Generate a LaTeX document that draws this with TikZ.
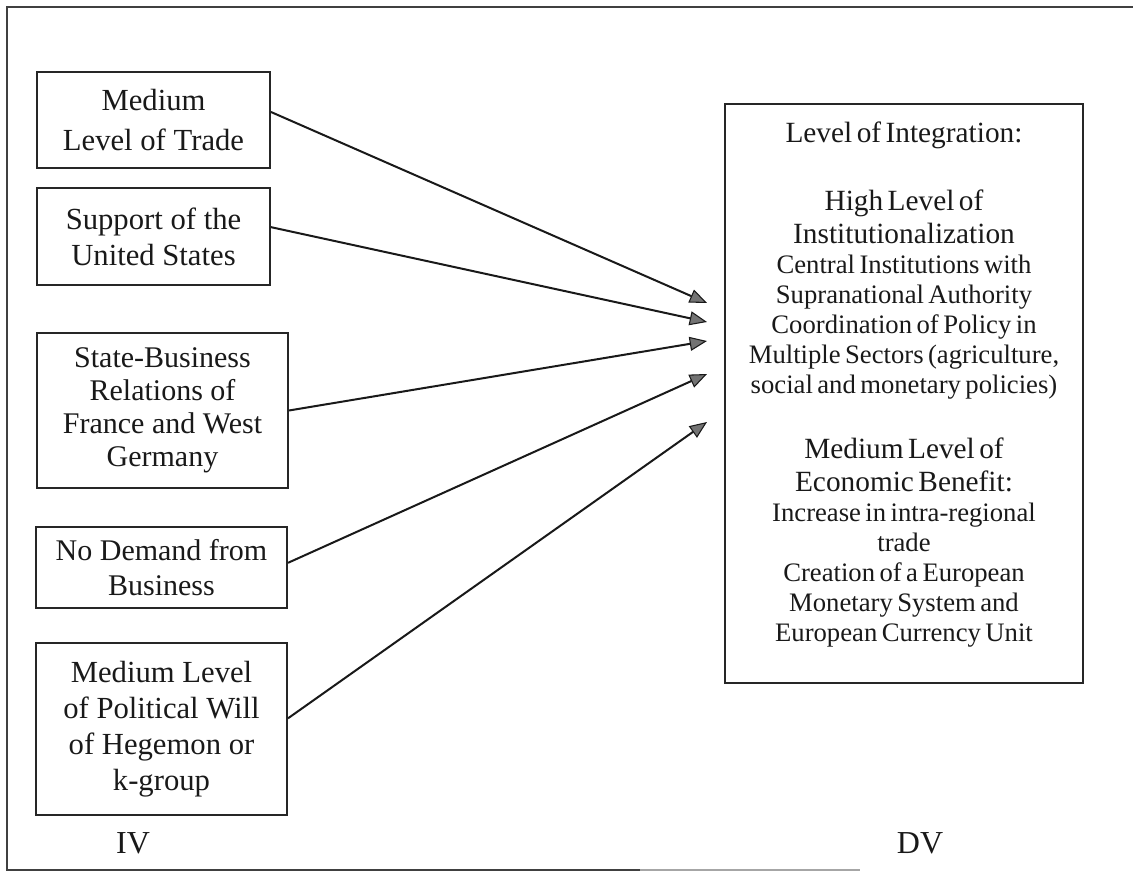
\documentclass[tikz,border=0pt]{standalone}
\usepackage{fontspec}
\setmainfont{Liberation Serif}
\usetikzlibrary{arrows.meta}

% font sizes for the outcome box
\newcommand\dvbig{\fontsize{22}{24.75}\selectfont}
\newcommand\dvsmall{\fontsize{20}{22.5}\selectfont}

\begin{document}
\begin{tikzpicture}[x=0.75pt, y=-0.75pt,
  ivbox/.style={draw=black!85, line width=1.5pt, align=center, inner sep=2pt,
    text=black!90, font=\fontsize{23}{27}\selectfont},
  dvbox/.style={draw=black!85, line width=1.5pt, inner sep=0pt},
  label/.style={text=black!90, font=\fontsize{24}{28}\selectfont, inner sep=0pt},
  link/.style={line width=1.5pt, draw=black!90,
    -{Triangle[length=13pt, width=10.5pt, fill=black!55, line width=0.8pt]}}
]
\useasboundingbox (0,0) rectangle (1133,873);

% outer frame (open on the right)
\draw[black!75, line width=1.2pt] (1133,7) -- (7,7) -- (7,870) -- (640,870);
\draw[black!35, line width=1pt] (640,870) -- (860,870);

% independent variables
\node[ivbox, minimum width=174.75pt, minimum height=72pt,
  font=\fontsize{23}{30}\selectfont] (b1) at (153.5,120)
  {Medium\\Level of Trade};
\node[ivbox, minimum width=174.75pt, minimum height=72.75pt] (b2) at (153.5,236.5)
  {Support of the\\United States};
\node[ivbox, minimum width=188.25pt, minimum height=116.25pt,
  font=\fontsize{22.5}{24.75}\selectfont] (b3) at (162.5,410.5)
  {State-Business\\Relations of\\France and West\\Germany};
\node[ivbox, minimum width=188.25pt, minimum height=60.75pt,
  font=\fontsize{22.5}{26.5}\selectfont] (b4) at (161.5,567.5)
  {No Demand from\\Business};
\node[ivbox, minimum width=188.25pt, minimum height=129pt] (b5) at (161.5,729)
  {Medium Level\\of Political Will\\of Hegemon or\\k-group};

% dependent variable
\node[dvbox, minimum width=268.5pt, minimum height=434.25pt] (dv) at (904,393.5) {};
\node[anchor=north, inner sep=0pt, text width=262pt, align=center, text=black!90]
  (dvtext) at (904,122) {%
  \dvbig Level of Integration:\par
  \vspace{26pt}
  High Level of\par
  Institutionalization\par
  \dvsmall Central Institutions with\par
  Supranational Authority\par
  Coordination of Policy in\par
  Multiple Sectors (agriculture,\par
  social and monetary policies)\par
  \vspace{24pt}
  \dvbig Medium Level of\par
  Economic Benefit:\par
  \dvsmall Increase in intra-regional\par
  trade\par
  Creation of a European\par
  Monetary System and\par
  European Currency Unit\par};

% column labels
\node[label] (iv) at (133,843) {IV};
\node[label] (dvl) at (920,843) {DV};

% arrow ends in front of the outcome box
\coordinate (t1) at (707,303);
\coordinate (t2) at (707,322);
\coordinate (t3) at (707,341);
\coordinate (t4) at (707,374);
\coordinate (t5) at (707,422);

\draw[link] ([yshift=6pt]b1.east) -- (t1);
\draw[link] ([yshift=7pt]b2.east) -- (t2);
\draw[link] (b3.east) -- (t3);
\draw[link] ([yshift=3.5pt]b4.east) -- (t4);
\draw[link] ([yshift=8pt]b5.east) -- (t5);
\end{tikzpicture}
\end{document}
